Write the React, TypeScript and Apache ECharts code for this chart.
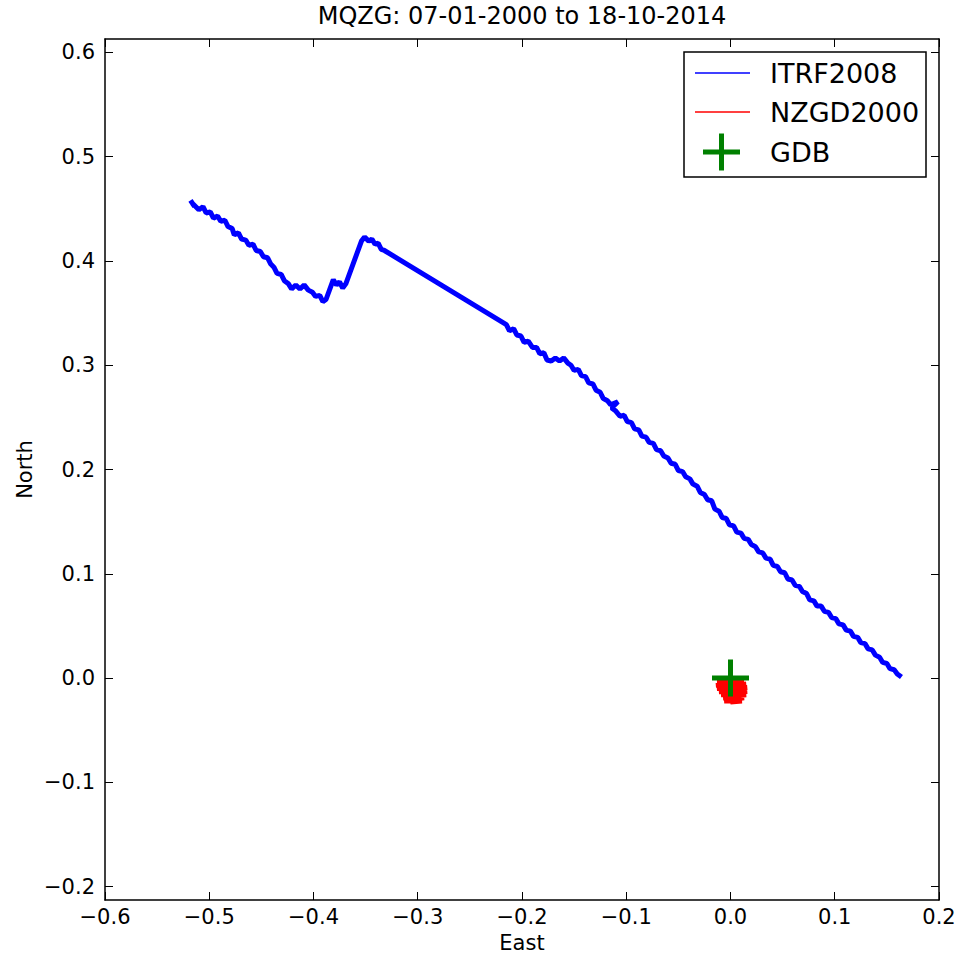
import React, { useEffect, useRef } from "react";
import * as echarts from "echarts";

const titleText = "MQZG: 07-01-2000 to 18-10-2014";
const xTicks = [-0.6, -0.5, -0.4, -0.3, -0.2, -0.1, 0.0, 0.1, 0.2];
const yTicks = [-0.2, -0.1, 0.0, 0.1, 0.2, 0.3, 0.4, 0.5, 0.6];
const xRange = [-0.6, 0.2];
const yRange = [-0.2128, 0.6128];

const itrf2008: [number, number][] = [
  [-0.518, 0.458], [-0.514, 0.452], [-0.516, 0.455], [-0.51, 0.449], [-0.506, 0.452], [-0.503, 0.446],
  [-0.499, 0.447], [-0.496, 0.441], [-0.492, 0.443], [-0.489, 0.438], [-0.485, 0.439], [-0.482, 0.433],
  [-0.478, 0.431], [-0.476, 0.425], [-0.472, 0.427], [-0.469, 0.421], [-0.465, 0.42], [-0.462, 0.415],
  [-0.458, 0.416], [-0.455, 0.41], [-0.451, 0.409], [-0.448, 0.404], [-0.444, 0.403], [-0.441, 0.397],
  [-0.438, 0.394], [-0.435, 0.388], [-0.431, 0.387], [-0.428, 0.381], [-0.424, 0.378], [-0.421, 0.373],
  [-0.417, 0.377], [-0.413, 0.373], [-0.409, 0.377], [-0.405, 0.372], [-0.401, 0.37], [-0.398, 0.366],
  [-0.394, 0.367], [-0.391, 0.361], [-0.388, 0.363],
  [-0.381, 0.382], [-0.378, 0.377], [-0.375, 0.38], [-0.372, 0.374], [-0.369, 0.378],
  [-0.354, 0.419], [-0.351, 0.423], [-0.347, 0.419], [-0.344, 0.421], [-0.341, 0.416], [-0.338, 0.417],
  [-0.335, 0.411], [-0.332, 0.41],
  [-0.215, 0.339], [-0.212, 0.333], [-0.208, 0.335], [-0.205, 0.329], [-0.201, 0.328], [-0.198, 0.322],
  [-0.194, 0.323], [-0.19, 0.317], [-0.186, 0.317], [-0.183, 0.311], [-0.179, 0.312], [-0.176, 0.305],
  [-0.172, 0.304], [-0.168, 0.307], [-0.164, 0.304], [-0.16, 0.307], [-0.156, 0.302], [-0.153, 0.3],
  [-0.15, 0.295], [-0.146, 0.296], [-0.143, 0.29], [-0.139, 0.289], [-0.136, 0.283], [-0.132, 0.282],
  [-0.129, 0.276], [-0.125, 0.274], [-0.122, 0.268], [-0.118, 0.266], [-0.115, 0.262], [-0.108, 0.265],
  [-0.114, 0.259], [-0.11, 0.256], [-0.106, 0.251], [-0.102, 0.252], [-0.099, 0.246], [-0.095, 0.245],
  [-0.092, 0.239], [-0.088, 0.238], [-0.085, 0.232], [-0.081, 0.231], [-0.078, 0.226], [-0.074, 0.225],
  [-0.071, 0.219], [-0.067, 0.218], [-0.064, 0.213], [-0.06, 0.211], [-0.057, 0.206], [-0.053, 0.205],
  [-0.05, 0.199], [-0.046, 0.198], [-0.043, 0.193], [-0.039, 0.191], [-0.036, 0.186], [-0.032, 0.184],
  [-0.029, 0.178], [-0.025, 0.176], [-0.022, 0.171], [-0.018, 0.17], [-0.015, 0.162], [-0.011, 0.16],
  [-0.008, 0.154], [-0.004, 0.153], [-0.001, 0.147], [0.003, 0.146], [0.006, 0.14], [0.01, 0.139],
  [0.013, 0.134], [0.017, 0.133], [0.02, 0.128], [0.024, 0.126], [0.027, 0.121], [0.031, 0.12],
  [0.034, 0.115], [0.038, 0.114], [0.041, 0.108], [0.045, 0.107], [0.048, 0.102], [0.052, 0.101],
  [0.055, 0.095], [0.059, 0.094], [0.062, 0.089], [0.066, 0.088], [0.069, 0.083], [0.073, 0.081],
  [0.076, 0.075], [0.08, 0.074], [0.083, 0.069], [0.087, 0.069], [0.09, 0.064], [0.094, 0.063],
  [0.097, 0.058], [0.101, 0.057], [0.104, 0.052], [0.108, 0.051], [0.111, 0.046], [0.115, 0.045],
  [0.118, 0.04], [0.122, 0.039], [0.125, 0.034], [0.129, 0.033], [0.132, 0.028], [0.136, 0.027],
  [0.139, 0.022], [0.143, 0.02], [0.146, 0.015], [0.15, 0.014], [0.153, 0.009], [0.157, 0.008],
  [0.16, 0.004], [0.164, 0.001],
];

const nzgd2000: [number, number][] = [
  [-0.013, -0.004], [0.013, -0.004], [-0.014, -0.007], [0.015, -0.006], [-0.013, -0.01], [0.016, -0.009],
  [-0.011, -0.013], [0.016, -0.013], [-0.009, -0.016], [0.015, -0.016], [-0.007, -0.019], [0.013, -0.019],
  [-0.006, -0.022], [0.011, -0.022], [0.0, -0.023], [0.006, -0.018], [-0.01, -0.01], [0.008, -0.003],
  [0.002, -0.013], [0.012, -0.02], [-0.003, -0.006], [0.004, -0.022], [-0.012, -0.005],
];

const gdb: [number, number][] = [[0.0, 0.0]];

const plusPath = "path://M16,0H21V16H37V21H21V37H16V21H0V16H16Z";
const FONT = "DejaVu Sans";
const fmt = (v: number) => {
  const r = Math.round(v * 10) / 10;
  return (r < 0 ? "\u2212" : "") + Math.abs(r).toFixed(1);
};

const GRID = { left: 105, top: 39, width: 834, height: 861 };

export default function App() {
  const ref = useRef<HTMLDivElement>(null);
  useEffect(() => {
    if (!ref.current) return;
    const chart = echarts.init(ref.current, null, { renderer: "svg" });
    const axisLine = { show: true, onZero: false, lineStyle: { color: "#000", width: 1.5 } };
    const tickStyle = (vals: number[]) => ({
      show: true,
      inside: true,
      length: 8,
      customValues: vals,
      lineStyle: { color: "#000", width: 1 },
    });
    const legendY = [73, 112, 152];
    chart.setOption({
      animation: false,
      backgroundColor: "#fff",
      grid: { ...GRID, containLabel: false },
      xAxis: [
        {
          type: "value",
          min: xRange[0],
          max: xRange[1],
          position: "bottom",
          axisLine,
          axisTick: tickStyle(xTicks),
          axisLabel: {
            customValues: xTicks,
            formatter: fmt,
            fontFamily: FONT,
            fontSize: 21,
            color: "#000",
            margin: 6,
          },
          splitLine: { show: false },
        },
        {
          type: "value",
          min: xRange[0],
          max: xRange[1],
          position: "top",
          axisLine,
          axisTick: tickStyle(xTicks),
          axisLabel: { show: false },
          splitLine: { show: false },
        },
      ],
      yAxis: [
        {
          type: "value",
          min: yRange[0],
          max: yRange[1],
          position: "left",
          axisLine,
          axisTick: tickStyle(yTicks),
          axisLabel: {
            customValues: yTicks,
            formatter: fmt,
            fontFamily: FONT,
            fontSize: 21,
            color: "#000",
            margin: 10,
          },
          splitLine: { show: false },
        },
        {
          type: "value",
          min: yRange[0],
          max: yRange[1],
          position: "right",
          axisLine,
          axisTick: tickStyle(yTicks),
          axisLabel: { show: false },
          splitLine: { show: false },
        },
      ],
      series: [
        {
          name: "ITRF2008",
          type: "line",
          data: itrf2008,
          showSymbol: false,
          lineStyle: { color: "#0000ff", width: 5 },
          clip: true,
        },
        {
          name: "NZGD2000",
          type: "line",
          data: nzgd2000,
          showSymbol: false,
          lineStyle: { color: "#ff0000", width: 5 },
          clip: true,
        },
        {
          name: "GDB",
          type: "scatter",
          data: gdb,
          symbol: plusPath,
          symbolSize: 37,
          itemStyle: { color: "#008000", opacity: 1 },
          z: 5,
        },
      ],
      graphic: [
        {
          type: "text",
          x: GRID.left + GRID.width / 2,
          y: 4,
          style: { text: titleText, fontFamily: FONT, fontSize: 24, fill: "#000", align: "center", verticalAlign: "top" },
        },
        {
          type: "text",
          x: GRID.left + GRID.width / 2,
          y: 943,
          style: { text: "East", fontFamily: FONT, fontSize: 21, fill: "#000", align: "center", verticalAlign: "middle" },
        },
        {
          type: "text",
          x: 25,
          y: GRID.top + GRID.height / 2,
          rotation: Math.PI / 2,
          style: { text: "North", fontFamily: FONT, fontSize: 21, fill: "#000", align: "center", verticalAlign: "middle" },
        },
        {
          type: "rect",
          shape: { x: 684, y: 52, width: 242, height: 125 },
          style: { fill: "#fff", stroke: "#000", lineWidth: 1.5 },
          z: 10,
        },
        {
          type: "line",
          shape: { x1: 695, y1: legendY[0], x2: 750, y2: legendY[0] },
          style: { stroke: "#0000ff", lineWidth: 1.5 },
          z: 11,
        },
        {
          type: "line",
          shape: { x1: 695, y1: legendY[1], x2: 750, y2: legendY[1] },
          style: { stroke: "#ff0000", lineWidth: 1.5 },
          z: 11,
        },
        {
          type: "rect",
          shape: { x: 703, y: legendY[2] - 2.5, width: 37, height: 5 },
          style: { fill: "#008000" },
          z: 11,
        },
        {
          type: "rect",
          shape: { x: 719, y: legendY[2] - 18.5, width: 5, height: 37 },
          style: { fill: "#008000" },
          z: 11,
        },
        ...["ITRF2008", "NZGD2000", "GDB"].map((t, i) => ({
          type: "text",
          x: 770,
          y: legendY[i],
          style: { text: t, fontFamily: FONT, fontSize: 27, fill: "#000", verticalAlign: "middle" },
          z: 11,
        })),
      ],
    });
    return () => chart.dispose();
  }, []);
  return (
    <div
      ref={ref}
      style={{ position: "fixed", left: 0, top: 0, width: 960, height: 959 }}
    />
  );
}
